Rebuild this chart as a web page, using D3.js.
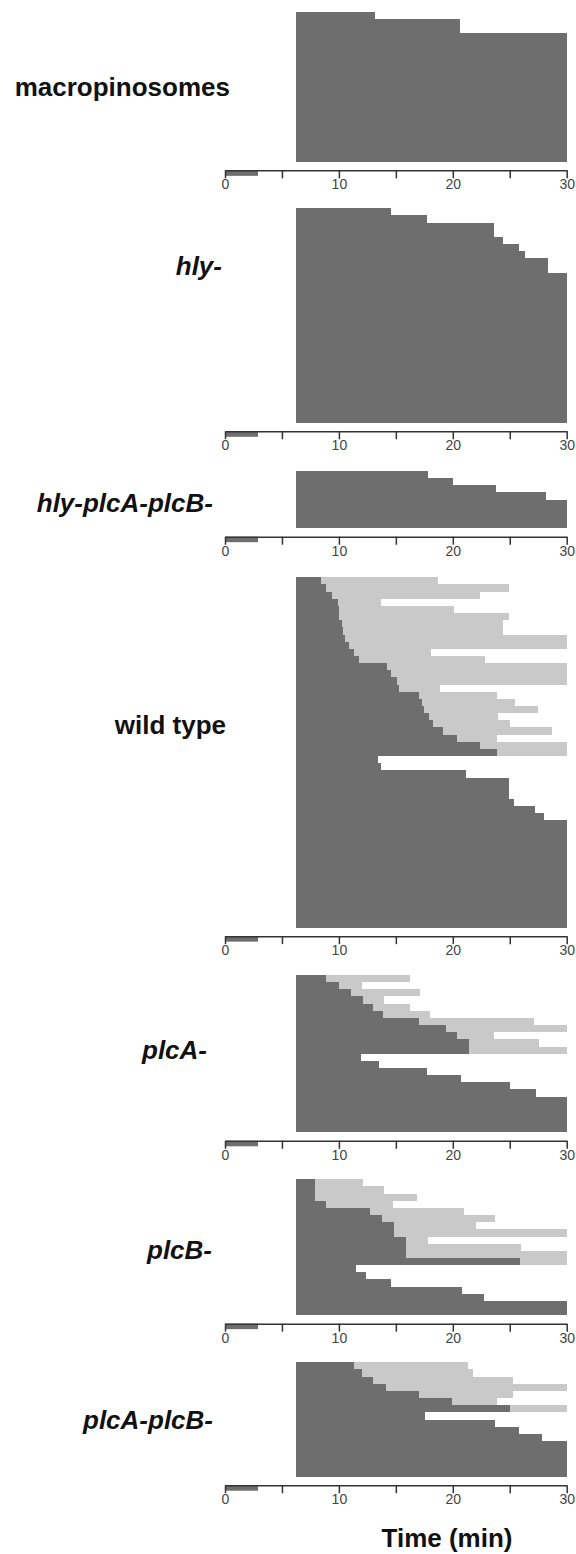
<!DOCTYPE html>
<html>
<head>
<meta charset="utf-8">
<script src="https://cdn.jsdelivr.net/npm/d3@7"></script>
<style>
  body { margin: 0; background: #fff; }
  svg { display: block; }
  .lbl { font-family: "Liberation Sans", Arial, sans-serif; font-weight: bold; font-size: 26px; fill: #111; }
  .axis text { font-family: "Liberation Sans", Arial, sans-serif; font-size: 14px; fill: #444; }
  .axis path, .axis line { stroke: #333; stroke-width: 1.5; }
  rect.dark, rect.light { shape-rendering: crispEdges; }
</style>
</head>
<body>
<div id="chart"></div>
<script>
// panel names
var panelNames = ["macropinosomes", "hly-", "hly-plcA-plcB-", "wild type", "plcA-", "plcB-", "plcA-plcB-"];
var italicName = [false, true, true, false, true, true, true];

// time axis
var timeTicks = [0, 5, 10, 15, 20, 25, 30];
var tickLabels = [0, 10, 20, 30];
var onset = 6.2;          // all tracks start here (min)
var refBar = [0, 2.9];    // small bar under each axis

// end of the dark phase, one value per vacuole (min)
var macroDark = [13.2, 20.6, 20.6, 30, 30, 30, 30, 30, 30, 30, 30, 30, 30, 30, 30, 30, 30, 30, 30, 30, 30];
var hlyDark = [14.6, 17.7, 23.6, 23.6, 24.4, 25.8, 26.3, 28.4, 28.4, 30, 30, 30, 30, 30, 30, 30, 30, 30, 30, 30,
               30, 30, 30, 30, 30, 30, 30, 30, 30, 30];
var hlyPlcDark = [17.8, 20.0, 23.8, 28.2, 30, 30, 30, 30];
var wtDark = [8.4, 8.85, 9.4, 9.9, 10.0, 10.0, 10.3, 10.4, 10.5, 10.9, 11.3, 11.8, 14.2, 14.6, 15.1, 15.3, 17.0, 17.3,
              17.5, 17.9, 18.3, 19.1, 20.4, 22.4, 23.9, 13.4, 13.7, 21.2, 24.9, 24.9, 24.9, 25.4, 27.2, 28.0,
              30, 30, 30, 30, 30, 30, 30, 30, 30, 30, 30, 30, 30, 30, 30];
var plcADark = [8.9, 10.0, 11.06, 12.1, 12.95, 13.9, 17.0, 19.4, 20.4, 21.45, 21.45, 11.9, 13.5, 17.7, 20.7, 25.0,
                27.3, 30, 30, 30, 30, 30];
var plcBDark = [7.86, 7.86, 7.86, 8.88, 12.7, 13.8, 14.85, 14.85, 15.9, 15.9, 15.9, 25.9, 11.5, 12.4, 14.56, 20.8,
                22.7, 30, 30];
var plcABDark = [11.35, 12.0, 13.0, 14.1, 17.0, 19.9, 25.0, 17.55, 23.7, 25.85, 27.8, 30, 30, 30, 30, 30];

// end of the light phase (null = no light phase)
var wtLight = [18.7, 24.9, 22.4, 13.7, 20.1, 24.9, 24.45, 24.45, 30, 30, 18.05, 22.85, 30, 30, 30, 18.9, 23.9, 25.5,
               27.45, 24.0, 25.0, 28.7, 23.9, 30, 30, null, null, null, null, null, null, null, null, null,
               null, null, null, null, null, null, null, null, null, null, null, null, null, null, null];
var plcALight = [16.2, 12.0, 17.1, 14.0, 16.2, 18.0, 27.1, 30, 23.6, 27.6, 30, null, null, null, null, null,
                 null, null, null, null, null, null];
var plcBLight = [12.08, 14.0, 16.9, 14.76, 21.0, 23.7, 22.0, 30, 17.8, 26.0, 30, 30, null, null, null, null,
                 null, null, null];
var plcABLight = [21.3, 21.8, 25.3, 30, 25.3, 23.9, 30, null, null, null, null, null, null, null, null, null];

var darkSets = [macroDark, hlyDark, hlyPlcDark, wtDark, plcADark, plcBDark, plcABDark];
var lightSets = [null, null, null, wtLight, plcALight, plcBLight, plcABLight];

// layout
var width = 576, height = 1554,
    rowH = 7.15,
    panelTop = [11.7, 208.3, 471, 577.3, 975, 1179.3, 1362.3],
    labelRight = [230, 222, 213, 226, 207, 212, 213],
    labelY = [87, 266, 503, 725, 1050, 1250, 1420],
    darkCol = "#6e6e6e",
    lightCol = "#c9c9c9";

var x = d3.scaleLinear().domain([0, 30]).range([225, 566.7]);

var svg = d3.select("#chart").append("svg")
    .attr("width", width)
    .attr("height", height);

var panels = panelNames.map(function(name, i) {
    return {
        name: name,
        italic: italicName[i],
        top: panelTop[i],
        rows: darkSets[i].map(function(d, j) {
            return { idx: j, dark: d, light: lightSets[i] ? lightSets[i][j] : null };
        })
    };
});

panels.forEach(function(p, i) {
    var n = p.rows.length;
    var y = d3.scaleBand().domain(d3.range(n)).range([p.top, p.top + n * rowH]);
    var g = svg.append("g").attr("class", "panel");

    // light phase
    g.selectAll("rect.light")
        .data(p.rows.filter(function(r) { return r.light != null; }))
        .enter().append("rect")
        .attr("class", "light")
        .attr("x", function(r) { return x(r.dark); })
        .attr("y", function(r) { return y(r.idx); })
        .attr("width", function(r) { return x(r.light) - x(r.dark); })
        .attr("height", y.bandwidth())
        .attr("fill", lightCol);

    // dark phase
    g.selectAll("rect.dark")
        .data(p.rows)
        .enter().append("rect")
        .attr("class", "dark")
        .attr("x", x(onset))
        .attr("y", function(r) { return y(r.idx); })
        .attr("width", function(r) { return x(r.dark) - x(onset); })
        .attr("height", y.bandwidth())
        .attr("fill", darkCol);

    var axisY = p.top + n * rowH + 8.5;

    // little reference bar
    g.append("rect")
        .attr("x", x(refBar[0]))
        .attr("y", axisY)
        .attr("width", x(refBar[1]) - x(refBar[0]))
        .attr("height", 5.5)
        .attr("fill", darkCol);

    var axis = d3.axisBottom(x)
        .tickValues(timeTicks)
        .tickSize(8)
        .tickSizeOuter(0)
        .tickPadding(1)
        .tickFormat(function(d) { return tickLabels.indexOf(d) >= 0 ? d : ""; });

    g.append("g")
        .attr("class", "axis")
        .attr("transform", "translate(0," + axisY + ")")
        .call(axis);

    g.append("text")
        .attr("class", "lbl")
        .attr("x", labelRight[i])
        .attr("y", labelY[i])
        .attr("dy", "0.35em")
        .attr("text-anchor", "end")
        .style("font-style", p.italic ? "italic" : "normal")
        .text(p.name);
});

svg.append("text")
    .attr("class", "lbl")
    .attr("x", 447)
    .attr("y", 1547)
    .attr("text-anchor", "middle")
    .text("Time (min)");
</script>
</body>
</html>
